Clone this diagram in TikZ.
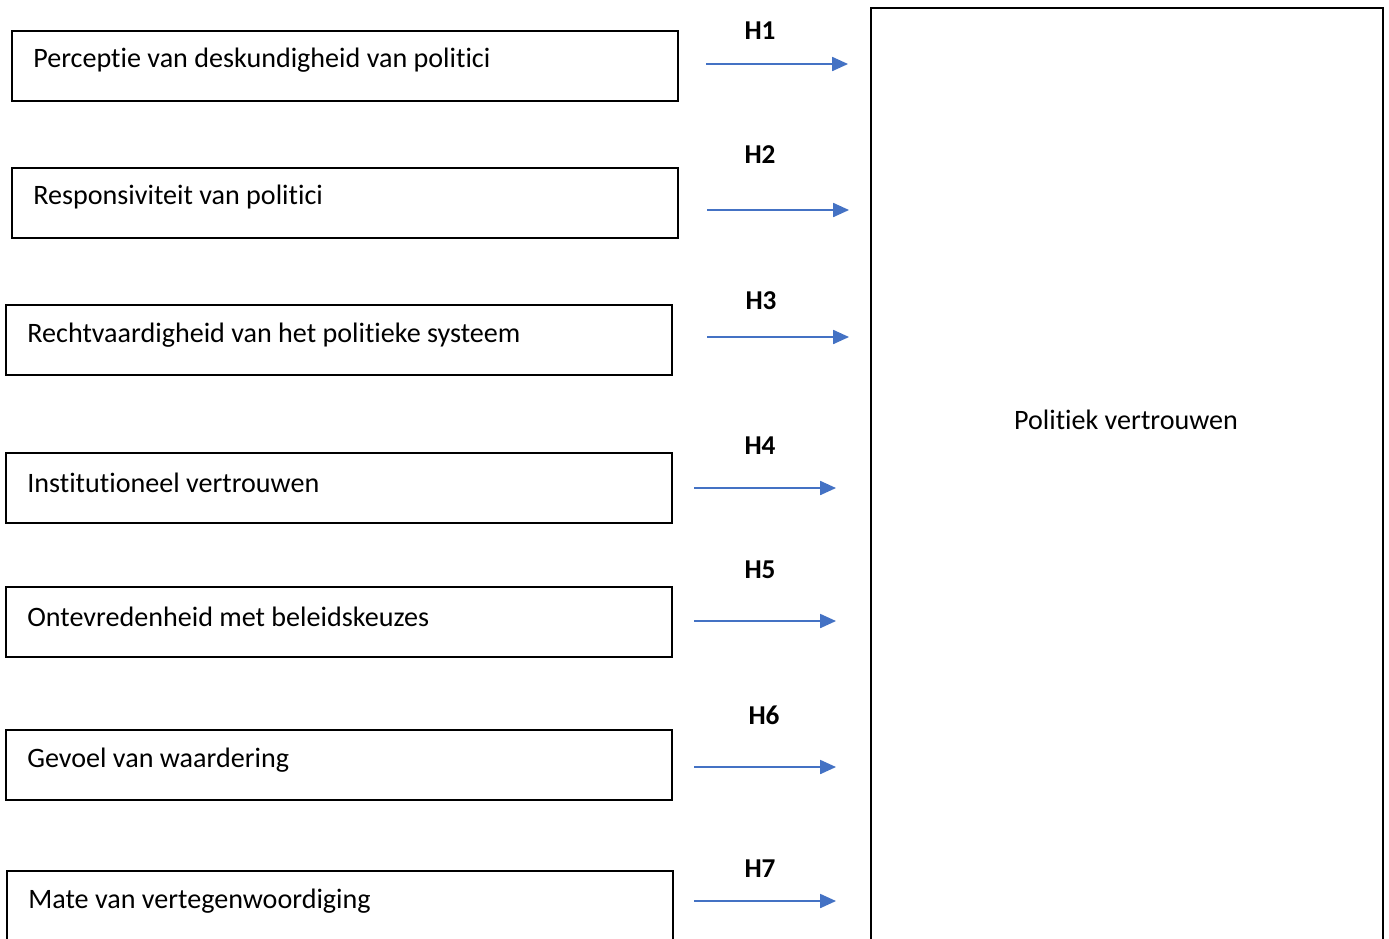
\documentclass[tikz,border=0pt]{standalone}
\usepackage{fontspec}
\setmainfont[Ligatures=NoCommon]{Carlito}
\usepackage{xcolor}
\usetikzlibrary{arrows.meta, positioning}

\definecolor{arrowblue}{HTML}{4472C4}

\begin{document}
\begin{tikzpicture}[
    x=0.02cm, y=-0.02cm,
    factor/.style={rectangle, draw, line width=1.4pt, minimum width=13.32cm, minimum height=1.4cm, anchor=north west, inner sep=0pt},
    label/.style={anchor=west, inner sep=0pt, font=\fontsize{16}{19}\selectfont},
    hyp/.style={font=\fontsize{15.5}{19}\selectfont\bfseries, inner sep=0pt},
    arrow/.style={draw=arrowblue, line width=0.85pt, -{Triangle[length=9pt, width=8pt]}}
]
    \useasboundingbox (0,0) rectangle (1389,938);
    \clip (0,0) rectangle (1389,938);

    % Factors
    \node[factor] (perceptie) at (11,30) {};
    \node[factor] (respons) at (11,167) {};
    \node[factor] (recht) at (5,304) {};
    \node[factor] (instit) at (5,452) {};
    \node[factor] (ontevr) at (5,586) {};
    \node[factor] (gevoel) at (5,729) {};
    \node[factor] (mate) at (6,870) {};

    \node[label] (tperceptie) at ([shift={(22,30)}]perceptie.north west) {Perceptie van deskundigheid van politici};
    \node[label] (trespons) at ([shift={(22,30)}]respons.north west) {Responsiviteit van politici};
    \node[label] (trecht) at ([shift={(22,31)}]recht.north west) {Rechtvaardigheid van het politieke systeem};
    \node[label] (tinstit) at ([shift={(22,31)}]instit.north west) {Institutioneel vertrouwen};
    \node[label] (tontevr) at ([shift={(22,31)}]ontevr.north west) {Ontevredenheid met beleidskeuzes};
    \node[label] (tgevoel) at ([shift={(22,31)}]gevoel.north west) {Gevoel van waardering};
    \node[label] (tmate) at ([shift={(22,31)}]mate.north west) {Mate van vertegenwoordiging};

    % Outcome
    \node[rectangle, draw, line width=1.4pt, minimum width=10.24cm, minimum height=19.2cm, anchor=north west, inner sep=0pt] (trust) at (870,7) {};
    \node[label, anchor=center] (ttrust) at (1126,420) {Politiek vertrouwen};

    % Arrows
    \coordinate (s1) at (706,64);  \coordinate (e1) at (848,64);
    \coordinate (s2) at (707,210); \coordinate (e2) at (849,210);
    \coordinate (s3) at (707,337); \coordinate (e3) at (849,337);
    \coordinate (s4) at (694,488); \coordinate (e4) at (836,488);
    \coordinate (s5) at (694,621); \coordinate (e5) at (836,621);
    \coordinate (s6) at (694,767); \coordinate (e6) at (836,767);
    \coordinate (s7) at (694,901); \coordinate (e7) at (836,901);

    \draw[arrow] (s1) -- (e1);
    \draw[arrow] (s2) -- (e2);
    \draw[arrow] (s3) -- (e3);
    \draw[arrow] (s4) -- (e4);
    \draw[arrow] (s5) -- (e5);
    \draw[arrow] (s6) -- (e6);
    \draw[arrow] (s7) -- (e7);

    \node[hyp] (h1) at (760,31) {H1};
    \node[hyp] (h2) at (760,155) {H2};
    \node[hyp] (h3) at (761,301) {H3};
    \node[hyp] (h4) at (760,446) {H4};
    \node[hyp] (h5) at (760,570) {H5};
    \node[hyp] (h6) at (764,715) {H6};
    \node[hyp] (h7) at (760,869) {H7};
\end{tikzpicture}
\end{document}
